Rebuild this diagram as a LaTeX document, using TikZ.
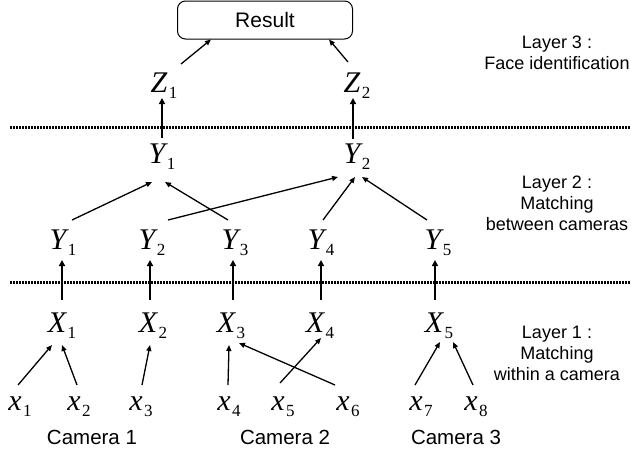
\documentclass[tikz,border=0pt]{standalone}
\usepackage{fontspec}
\setmainfont{Liberation Sans}
\newfontfamily\varfont{Liberation Serif}
\usetikzlibrary{arrows.meta,calc}

% variable with a subscript, e.g. \vr{X}{1}
\newcommand{\vr}[2]{{\varfont\fontsize{30}{30}\selectfont\itshape #1}%
  \kern1.5pt\raisebox{-6pt}{\varfont\fontsize{17}{17}\selectfont #2}}

\tikzset{
  var/.style={inner sep=0pt, anchor=center},
  link/.style={line width=1.3pt, -{Triangle[length=6pt,width=5pt]}},
  uplink/.style={line width=2.3pt, -{Triangle[length=6pt,width=6pt]}},
  layerline/.style={line width=3pt, dash pattern=on 2pt off 1pt},
  note/.style={align=center, font=\fontsize{18}{21}\selectfont},
  camlabel/.style={font=\fontsize{20.5}{22}\selectfont},
}

\begin{document}
\begin{tikzpicture}[x=1pt,y=-1pt]
\useasboundingbox (0,0) rectangle (631,448);

% result box
\node[draw, line width=1pt, rounded corners=8pt, minimum width=175pt,
      minimum height=38pt, font=\fontsize{21}{22}\selectfont]
      (Result) at (265,20) {Result};

% layer 3
\node[var] (Z1) at (164,86) {\vr{Z}{1}};
\node[var] (Z2) at (357,86) {\vr{Z}{2}};

% layer 2, upper row
\node[var] (T1) at (162,157) {\vr{Y}{1}};
\node[var] (T2) at (357,157) {\vr{Y}{2}};

% layer 2, lower row
\node[var] (Y1) at (63,243)  {\vr{Y}{1}};
\node[var] (Y2) at (152,243) {\vr{Y}{2}};
\node[var] (Y3) at (235,243) {\vr{Y}{3}};
\node[var] (Y4) at (321,243) {\vr{Y}{4}};
\node[var] (Y5) at (438,243) {\vr{Y}{5}};

% layer 1
\node[var] (X1) at (62,326)  {\vr{X}{1}};
\node[var] (X2) at (153,326) {\vr{X}{2}};
\node[var] (X3) at (231,326) {\vr{X}{3}};
\node[var] (X4) at (320,326) {\vr{X}{4}};
\node[var] (X5) at (439,326) {\vr{X}{5}};

% observations
\node[var] (x1) at (20,407)  {\vr{x}{1}};
\node[var] (x2) at (79,407)  {\vr{x}{2}};
\node[var] (x3) at (141,407) {\vr{x}{3}};
\node[var] (x4) at (229,407) {\vr{x}{4}};
\node[var] (x5) at (283,407) {\vr{x}{5}};
\node[var] (x6) at (348,407) {\vr{x}{6}};
\node[var] (x7) at (421,407) {\vr{x}{7}};
\node[var] (x8) at (476,407) {\vr{x}{8}};

% camera labels
\node[camlabel] (C1) at (92,437)  {Camera 1};
\node[camlabel] (C2) at (285,437) {Camera 2};
\node[camlabel] (C3) at (456,437) {Camera 3};

% layer descriptions
\node[note] (L3) at (557,53)  {Layer 3 :\\Face identification};
\node[note] (L2) at (557,203) {Layer 2 :\\Matching\\between cameras};
\node[note] (L1) at (557,353) {Layer 1 :\\Matching\\within a camera};

% layer separators
\coordinate (S1a) at (10,127);  \coordinate (S1b) at (631,127);
\coordinate (S2a) at (10,282);  \coordinate (S2b) at (631,282);
\draw[layerline] (S1a) -- (S1b);
\draw[layerline] (S2a) -- (S2b);

% layer 3 -> result
\draw[link] ($(Z1)+(17,-22)$) -- ($(Result.south)+(-54,0)$);
\draw[link] ($(Z2)+(-9,-24)$) -- ($(Result.south)+(64,0)$);

% layer 2 -> layer 3
\draw[uplink] ($(T1)+(0,-19)$) -- ($(Z1)+(-2,12)$);
\draw[uplink] ($(T2)+(-4,-18)$) -- ($(Z2)+(-4,12)$);

% matching between cameras
\draw[link] ($(Y1)+(9,-23)$)   -- ($(T1)+(-10,25)$);
\draw[link] ($(Y3)+(-7,-23)$)  -- ($(T1)+(3,25)$);
\draw[link] ($(Y2)+(16,-23)$)  -- ($(T2)+(-19,20)$);
\draw[link] ($(Y4)+(2,-23)$)   -- ($(T2)+(-2,20)$);
\draw[link] ($(Y5)+(-11,-23)$) -- ($(T2)+(5,20)$);

% layer 1 -> layer 2
\draw[uplink] ($(X1)+(0,-26)$)  -- ($(Y1)+(-1,17)$);
\draw[uplink] ($(X2)+(-3,-26)$) -- ($(Y2)+(-2,17)$);
\draw[uplink] ($(X3)+(2,-26)$)  -- ($(Y3)+(-2,17)$);
\draw[uplink] ($(X4)+(1,-26)$)  -- ($(Y4)+(0,17)$);
\draw[uplink] ($(X5)+(-4,-26)$) -- ($(Y5)+(-3,17)$);

% matching within a camera
\draw[link] ($(x1)+(-2,-22)$)  -- ($(X1)+(-10,19)$);
\draw[link] ($(x2)+(-2,-22)$)  -- ($(X1)+(0,19)$);
\draw[link] ($(x3)+(1,-22)$)   -- ($(X2)+(-3,19)$);
\draw[link] ($(x4)+(-1,-22)$)  -- ($(X3)+(-2,19)$);
\draw[link] ($(x5)+(-3,-24)$)  -- ($(X4)+(1,12)$);
\draw[link] ($(x6)+(-13,-22)$) -- ($(X3)+(8,17)$);
\draw[link] ($(x7)+(-6,-22)$)  -- ($(X5)+(1,16)$);
\draw[link] ($(x8)+(-3,-22)$)  -- ($(X5)+(14,16)$);
\end{tikzpicture}
\end{document}
